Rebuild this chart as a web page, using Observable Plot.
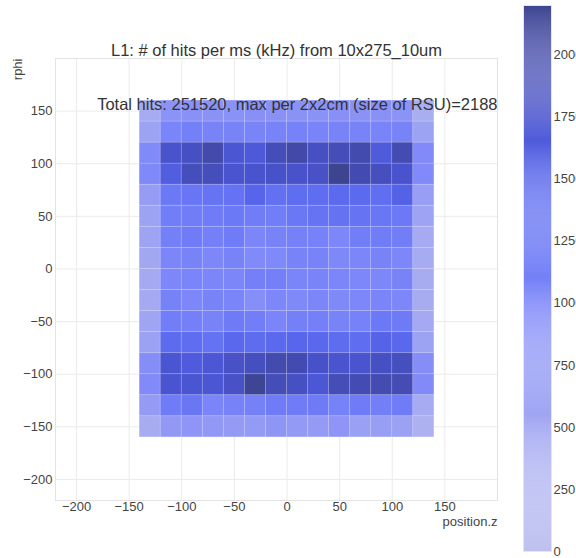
<!DOCTYPE html>
<html>
<head>
<meta charset="utf-8">
<script src="https://cdn.jsdelivr.net/npm/d3@7"></script>
<script src="https://cdn.jsdelivr.net/npm/@observablehq/plot@0.6"></script>
<style>
  html, body { margin: 0; padding: 0; background: #fff; }
  #wrap { position: relative; width: 576px; height: 558px; overflow: hidden; font-family: "Liberation Sans", Arial, sans-serif; }
  #main { position: absolute; left: 0; top: 0; }
  #cbar { position: absolute; left: 500px; top: 0; }
</style>
</head>
<body>
<div id="wrap"><div id="main"></div><div id="cbar"></div></div>
<script>
// ---- data ----
const titleText = "L1: # of hits per ms (kHz) from 10x275_10um";
const noteText = "Total hits: 251520, max per 2x2cm (size of RSU)=2188";
const xLabel = "position.z";
const yLabel = "rphi";
const zEdges = [-140, -120, -100, -80, -60, -40, -20, 0, 20, 40, 60, 80, 100, 120, 140];
const rphiEdges = [160, 140, 120, 100, 80, 60, 40, 20, 0, -20, -40, -60, -80, -100, -120, -140, -160];
const xTicks = [-200, -150, -100, -50, 0, 50, 100, 150];
const yTicks = [-200, -150, -100, -50, 0, 50, 100, 150];
const cbarTicks = [0, 250, 500, 750, 1000, 1250, 1500, 1750, 2000];
const maxHits = 2188;
// hits per 2x2cm cell, rows from rphi 160 (top) down to -160
const hits = [
  [430, 820, 850, 830, 840, 860, 850, 830, 840, 860, 830, 850, 820, 380],
  [580, 1020, 1100, 1050, 1050, 1030, 1050, 1070, 1030, 1050, 1050, 1030, 1040, 580],
  [950, 1780, 1830, 1980, 1720, 1680, 1900, 2000, 1840, 1900, 1960, 1650, 1930, 940],
  [960, 1600, 1880, 1880, 1760, 1770, 1800, 1790, 1820, 2188, 1950, 1870, 1770, 940],
  [680, 1200, 1250, 1280, 1310, 1500, 1340, 1380, 1380, 1430, 1420, 1360, 1540, 660],
  [580, 1120, 1140, 1150, 1200, 1140, 1120, 1220, 1280, 1290, 1280, 1230, 1200, 570],
  [570, 1100, 1150, 1090, 1150, 1000, 1050, 1080, 1060, 990, 1130, 1140, 1120, 450],
  [520, 1000, 1050, 990, 1040, 950, 960, 1050, 1040, 970, 1000, 1040, 990, 430],
  [470, 980, 1020, 1000, 1000, 1090, 1090, 1020, 1030, 1000, 980, 990, 1050, 420],
  [470, 1070, 990, 1050, 1020, 880, 980, 960, 1000, 960, 980, 1010, 980, 420],
  [550, 1120, 1090, 1050, 1180, 1130, 1010, 1100, 1090, 1050, 1070, 1210, 1180, 470],
  [600, 1400, 1380, 1300, 1460, 1390, 1440, 1480, 1450, 1390, 1380, 1530, 1450, 580],
  [890, 1740, 1640, 1700, 1820, 1860, 1960, 1950, 1800, 1760, 1760, 1830, 1860, 890],
  [940, 1750, 1740, 1720, 1820, 2150, 1910, 1840, 1700, 1910, 1930, 1940, 1920, 940],
  [700, 1150, 1230, 1010, 1060, 1080, 1150, 1150, 1180, 1070, 1150, 1110, 1150, 430],
  [420, 740, 790, 750, 700, 710, 780, 720, 700, 790, 620, 660, 610, 310]
];
// colour scale stops
const colorStops = [0, 250, 500, 750, 1000, 1250, 1500, 1750, 2000, 2188];
const colorRange = ["#bec1ee", "#b0b4f0", "#a3a8f2", "#9198f5", "#7c86f9", "#6876f5", "#5665eb", "#4a54d0", "#4249a8", "#3d4490"];

// ---- build table ----
const cells = [];
hits.forEach((row, i) => row.forEach((v, j) => {
  cells.push({z0: zEdges[j], z1: zEdges[j + 1], r0: rphiEdges[i + 1], r1: rphiEdges[i], v});
}));

const colorScale = {type: "linear", domain: colorStops, range: colorRange, interpolate: "rgb", clamp: true};
const font = '"Liberation Sans", Arial, sans-serif';

const main = Plot.plot({
  width: 500, height: 558,
  marginLeft: 55, marginRight: 3, marginTop: 58, marginBottom: 58,
  style: {fontFamily: font, fontSize: "13px", color: "#444", background: "transparent"},
  x: {domain: [-220, 200]},
  y: {domain: [-220, 200]},
  color: colorScale,
  marks: [
    Plot.gridX(xTicks, {stroke: "#ebebeb", strokeOpacity: 1}),
    Plot.gridY(yTicks, {stroke: "#ebebeb", strokeOpacity: 1}),
    Plot.frame({stroke: "#e3e3e3"}),
    Plot.rect(cells, {x1: "z0", x2: "z1", y1: "r0", y2: "r1", fill: "v", stroke: "white", strokeOpacity: 0.12, strokeWidth: 1}),
    Plot.axisX({ticks: xTicks, tickSize: 0, tickPadding: 1, tickFormat: d3.format("d"), label: null, fill: "#444"}),
    Plot.axisY({ticks: yTicks, tickSize: 0, tickPadding: 3, tickFormat: d3.format("d"), label: null, fill: "#444"}),
    Plot.text([titleText], {text: d => d, frameAnchor: "top", dy: -8, lineAnchor: "middle", fontSize: 16.5, fill: "#333"}),
    Plot.text([noteText], {text: d => d, frameAnchor: "top-right", dy: 46, lineAnchor: "middle", textAnchor: "end", fontSize: 16.5, fill: "#333"}),
    Plot.text([xLabel], {text: d => d, frameAnchor: "bottom-right", dy: 21, lineAnchor: "middle", textAnchor: "end", fontSize: 13, fill: "#444"}),
    Plot.text([yLabel], {text: d => d, frameAnchor: "top-left", dx: -38, lineAnchor: "middle", rotate: -90, textAnchor: "end", fontSize: 13, fill: "#444"})
  ]
});
document.getElementById("main").appendChild(main);

// colour bar
const bandStep = 4;
const bands = d3.range(0, 2200, bandStep);
const cbar = Plot.plot({
  width: 76, height: 558,
  marginLeft: 23, marginRight: 25, marginTop: 5, marginBottom: 7,
  style: {fontFamily: font, fontSize: "13px", color: "#444", background: "transparent", overflow: "visible"},
  x: {domain: [0, 1], axis: null},
  y: {domain: [0, 2200]},
  color: colorScale,
  marks: [
    Plot.rect(bands, {x1: () => 0, x2: () => 1, y1: d => d, y2: d => d + bandStep, fill: d => Math.min(d + bandStep / 2, maxHits)}),
    Plot.frame({stroke: "#e6e6e6"}),
    Plot.axisY({anchor: "right", ticks: cbarTicks, tickSize: 0, tickPadding: 2, tickFormat: d3.format("d"), label: null, fill: "#444"})
  ]
});
document.getElementById("cbar").appendChild(cbar);
</script>
</body>
</html>
